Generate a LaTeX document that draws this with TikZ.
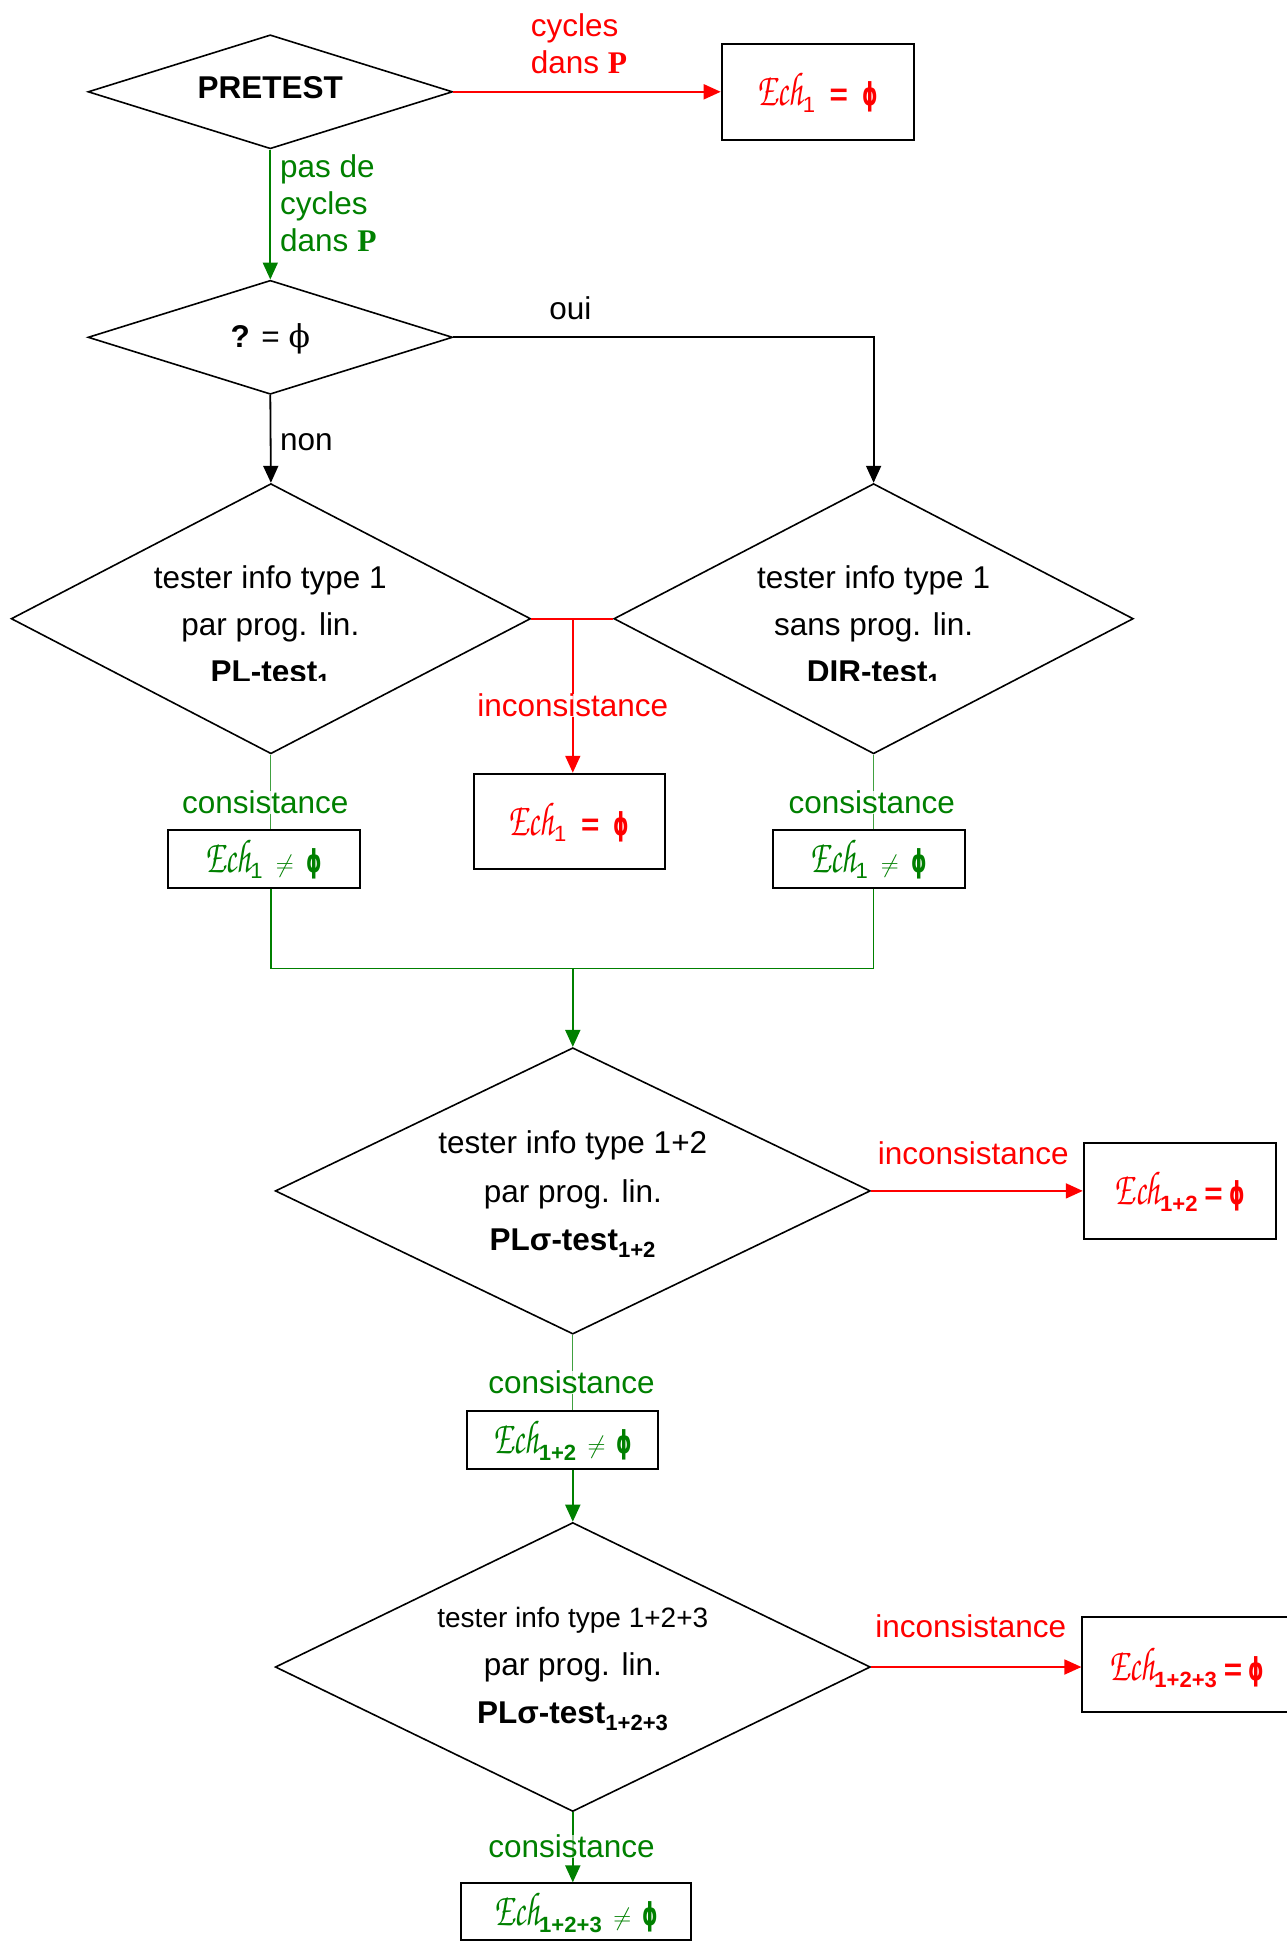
\documentclass[tikz,border=0pt]{standalone}
\usepackage[T1]{fontenc}
\usepackage{fontspec}
\setmainfont{Liberation Sans}
\newfontfamily\serifface{Liberation Serif}
\newfontfamily\phiface{DejaVu Serif}
\newfontfamily\phibold{DejaVu Sans}[FakeStretch=0.62]
\usetikzlibrary{shapes.geometric,arrows.meta}

\definecolor{okgreen}{RGB}{0,128,0}
\definecolor{badred}{RGB}{255,0,0}

% cursive "Ech" (URW Chancery), set tall and narrow
\newcommand\echfont{\fontencoding{T1}\fontfamily{pzc}\fontseries{mb}\fontshape{it}\fontsize{34}{37}\selectfont}
\newcommand\ech{\scalebox{0.95}[1.4]{\echfont Ech}}
\newcommand\boldP{{\serifface\bfseries P}}
\newcommand\nullset{{\phibold\bfseries ϕ}}

\tikzset{
  decision/.style={draw, shape=diamond, line width=1.6pt, inner sep=0pt},
  resbox/.style={draw, line width=2pt, inner sep=0pt},
  bigtxt/.style={font=\fontsize{31.5}{47}\selectfont, align=center, inner sep=0pt},
  lbl/.style={font=\fontsize{31.5}{37}\selectfont, inner sep=0pt},
  arr/.style={-{Triangle[length=17pt,width=15pt]}, line width=1.8pt},
  plain/.style={line width=1.8pt},
  thin/.style={line width=1.1pt},
  veil/.style={fill=white, fill opacity=0.85, text opacity=1},
}

\begin{document}
\begin{tikzpicture}[x=1pt,y=-1pt]
\useasboundingbox (0,0) rectangle (1287,1944);

% ---------- pretest ----------
\node[decision, minimum width=364.6pt, minimum height=114pt] (pre) at (270.3,91.8) {};
\node[bigtxt] (pretxt) at (270.3,88) {\bfseries PRETEST};
\node[resbox, minimum width=192pt, minimum height=95.5pt] (e1) at (817.7,91.8)
  {\color{badred}\fontsize{31.5}{37}\selectfont\ech\textsubscript{1}\hspace{0.45em}\textbf{=}\hspace{0.45em}\nullset};
\draw[arr, badred] (pre.east) -- (e1.west);
\node[lbl, text=badred, align=left, anchor=west] (cyc) at (530.7,43.4) {cycles\\dans \boldP};

% ---------- empty test ----------
\node[decision, minimum width=364.6pt, minimum height=114pt] (q) at (270.3,337.3) {};
\node[bigtxt] (qtxt) at (270.3,338.5) {\textbf{?} = {\phiface ϕ}};
\draw[arr, okgreen] (pre.south) -- (q.north);
\node[lbl, text=okgreen, align=left, anchor=west] (nocyc) at (280,203.3) {pas de\\cycles\\dans \boldP};

% ---------- type 1 tests ----------
\node[decision, minimum width=519.5pt, minimum height=270.2pt] (d3) at (270.9,618.7) {};
\node[decision, minimum width=519.5pt, minimum height=270.2pt] (d4) at (873.6,618.7) {};
\node[bigtxt] (d3a) at (270.3,603.8) {tester info type 1\\par prog. lin.};
\node[bigtxt] (d4a) at (873.6,603.8) {tester info type 1\\sans prog. lin.};
\begin{scope}
  \clip (0,640) rectangle (1287,680.5);
  \node[bigtxt, anchor=base] (d3b) at (270.3,682.5) {\bfseries PL-test\textsubscript{1}};
  \node[bigtxt, anchor=base] (d4b) at (873.6,682.5) {\bfseries DIR-test\textsubscript{1}};
\end{scope}

\draw[arr] (q.south) -- (d3.north);
\node[lbl, anchor=west] (non) at (280,442.6) {non};
\draw[arr] (q.east) -| (d4.north);
\node[lbl] (oui) at (570.4,308.7) {oui};

% inconsistent type 1
\node[resbox, minimum width=191pt, minimum height=95.5pt] (r1) at (569,821.5)
  {\color{badred}\fontsize{31.5}{37}\selectfont\ech\textsubscript{1}\hspace{0.45em}\textbf{=}\hspace{0.45em}\nullset};
\coordinate (mid) at (572.8,618.7);
\draw[plain, badred] (d3.east) -- (d4.west);
\draw[arr, badred] (mid) -- (mid |- r1.north);
\node[lbl, text=badred, veil] (inc1) at (572.8,705.5) {inconsistance};

% consistent type 1
\node[resbox, minimum width=192pt, minimum height=58pt] (c1) at (263.5,858.6)
  {\color{okgreen}\fontsize{31.5}{37}\selectfont\ech\textsubscript{1}\hspace{0.4em}$\neq$\hspace{0.4em}\nullset};
\node[resbox, minimum width=192pt, minimum height=58pt] (c2) at (868.6,858.6)
  {\color{okgreen}\fontsize{31.5}{37}\selectfont\ech\textsubscript{1}\hspace{0.4em}$\neq$\hspace{0.4em}\nullset};
\draw[thin, okgreen!75] (d3.south) -- (d3.south |- c1.north);
\draw[thin, okgreen!75] (d4.south) -- (d4.south |- c2.north);
\node[lbl, text=okgreen, veil] (cons1) at (265.3,802.2) {consistance};
\node[lbl, text=okgreen, veil] (cons2) at (871.7,802.2) {consistance};

% merge
\coordinate (join) at (572.8,968.4);
\draw[plain, okgreen, line width=1.4pt] (d3.south |- c1.south) -- (d3.south |- join) -- (d4.south |- join) -- (d4.south |- c2.south);

% ---------- type 1+2 ----------
\node[decision, minimum width=595.1pt, minimum height=286.4pt] (d5) at (572.8,1190.9) {};
\node[bigtxt, font=\fontsize{31.5}{48.4}\selectfont] (d5t) at (572.8,1194)
  {tester info type 1+2\\par prog. lin.\\\textbf{PLσ-test\textsubscript{1+2}}};
\draw[arr, okgreen] (join) -- (d5.north);

\node[resbox, minimum width=192pt, minimum height=95.5pt] (r2) at (1179.8,1190.9)
  {\color{badred}\fontsize{31.5}{37}\selectfont\ech\textsubscript{\textbf{1+2}}\hspace{0.2em}\textbf{=}\hspace{0.2em}\nullset};
\draw[arr, badred] (d5.east) -- (r2.west);
\node[lbl, text=badred] (inc2) at (973.3,1153.1) {inconsistance};

\node[resbox, minimum width=191pt, minimum height=58pt] (c3) at (562.9,1440.1)
  {\color{okgreen}\fontsize{31.5}{37}\selectfont\ech\textsubscript{\textbf{1+2}}\hspace{0.35em}$\neq$\hspace{0.35em}\nullset};
\draw[thin, okgreen!75] (d5.south) -- (d5.south |- c3.north);
\node[lbl, text=okgreen, veil] (cons3) at (571.6,1382.5) {consistance};

% ---------- type 1+2+3 ----------
\node[decision, minimum width=595.1pt, minimum height=289pt] (d6) at (572.8,1667) {};
\node[bigtxt, font=\fontsize{31.5}{47.7}\selectfont] (d6t) at (572.8,1669)
  {{\fontsize{28}{30}\selectfont tester info type 1+2+3}\\par prog. lin.\\\textbf{PLσ-test\textsubscript{1+2+3}}};
\draw[arr, okgreen] (d6.north |- c3.south) -- (d6.north);

\node[resbox, minimum width=225pt, minimum height=95.5pt] (r3) at (1194.9,1664.5) {};
\node[font=\fontsize{31.5}{37}\selectfont, text=badred, inner sep=0pt] (r3t) at (1186.6,1667)
  {\ech\textsubscript{\textbf{1+2+3}}\hspace{0.2em}\textbf{=}\hspace{0.2em}\nullset};
\draw[arr, badred] (d6.east) -- (d6.east -| r3.west);
\node[lbl, text=badred] (inc3) at (970.8,1626.7) {inconsistance};

\node[resbox, minimum width=229.4pt, minimum height=57pt] (c4) at (575.9,1911.9)
  {\color{okgreen}\fontsize{31.5}{37}\selectfont\ech\textsubscript{\textbf{1+2+3}}\hspace{0.35em}$\neq$\hspace{0.35em}\nullset};
\draw[arr, okgreen] (d6.south) -- (d6.south |- c4.north);
\node[lbl, text=okgreen, fill=white, fill opacity=0.6, text opacity=1] (cons4) at (571.6,1846.2) {consistance};
\end{tikzpicture}
\end{document}
